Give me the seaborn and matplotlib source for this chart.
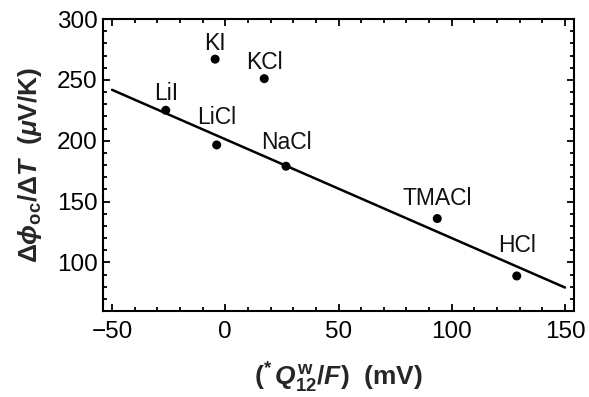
import matplotlib
matplotlib.use("Agg")
import matplotlib.pyplot as plt
from matplotlib.ticker import MultipleLocator
import seaborn as sns
import pandas as pd

# Electrolytes and their measured values
salts = ["KI", "KCl", "LiI", "LiCl", "NaCl", "TMACl", "HCl"]
q12_mv = [-4.5, 17.2, -26.3, -3.8, 26.8, 93.6, 128.7]
seebeck_uv_k = [267.0, 251.0, 225.0, 196.5, 179.0, 136.0, 88.8]

# Linear trend line endpoints
fit_x = [-50, 150]
fit_y = [241.8, 79.3]

x_ticks = [-50, 0, 50, 100, 150]
y_ticks = [100, 150, 200, 250, 300]

sns.set_style("ticks")
plt.rcParams["font.family"] = ["Liberation Sans", "DejaVu Sans"]
plt.rcParams["mathtext.fontset"] = "custom"
plt.rcParams["mathtext.rm"] = "Liberation Sans:bold"
plt.rcParams["mathtext.bf"] = "Liberation Sans:bold"
plt.rcParams["mathtext.it"] = "Liberation Sans:bold:italic"
plt.rcParams["mathtext.sf"] = "Liberation Sans:bold"

points = pd.DataFrame({"salt": salts, "q": q12_mv, "s": seebeck_uv_k})
trend = pd.DataFrame({"q": fit_x, "s": fit_y})

fig = plt.figure(figsize=(5.89, 3.97), dpi=100)
ax = fig.add_axes([0.1749, 0.2166, 0.7997, 0.7355])

sns.lineplot(data=trend, x="q", y="s", ax=ax, color="black", linewidth=1.8)
sns.scatterplot(data=points, x="q", y="s", ax=ax, color="black", s=42,
                edgecolor="none", zorder=3)

# label offsets (points) above each marker
offsets = {"KI": 11.5, "KCl": 11.5, "LiI": 12, "LiCl": 20, "NaCl": 17,
           "TMACl": 14.5, "HCl": 22}
for name, xv, yv in zip(salts, q12_mv, seebeck_uv_k):
    ax.annotate(name, (xv, yv), xytext=(0, offsets[name]),
                textcoords="offset points", ha="center", va="center",
                fontsize=16.5, color="#111111")

ax.set_xlim(-54, 154)
ax.set_ylim(60, 300)
ax.set_xticks(x_ticks)
ax.set_yticks(y_ticks)
ax.set_xticklabels(["\u221250", "0", "50", "100", "150"])
ax.xaxis.set_minor_locator(MultipleLocator(10))
ax.yaxis.set_minor_locator(MultipleLocator(10))
ax.tick_params(which="both", direction="in", top=True, right=True,
               width=1.3, colors="black", labelsize=17.5)
ax.tick_params(axis="x", pad=7)
ax.tick_params(axis="y", pad=4)
ax.tick_params(which="major", length=5)
ax.tick_params(which="minor", length=2.8)
for sp in ax.spines.values():
    sp.set_linewidth(1.5)
    sp.set_color("black")

ax.set_xlabel(r"($^{*}\,Q_{12}^{\mathrm{w}}/F$)  (mV)", fontsize=19,
              fontweight="bold", labelpad=13)
ax.set_ylabel(r"$\Delta\phi_{\mathrm{oc}}/\Delta T$  ($\mu$V/K)", fontsize=19,
              fontweight="bold", labelpad=9)

fig.savefig("out.png", dpi=100)
